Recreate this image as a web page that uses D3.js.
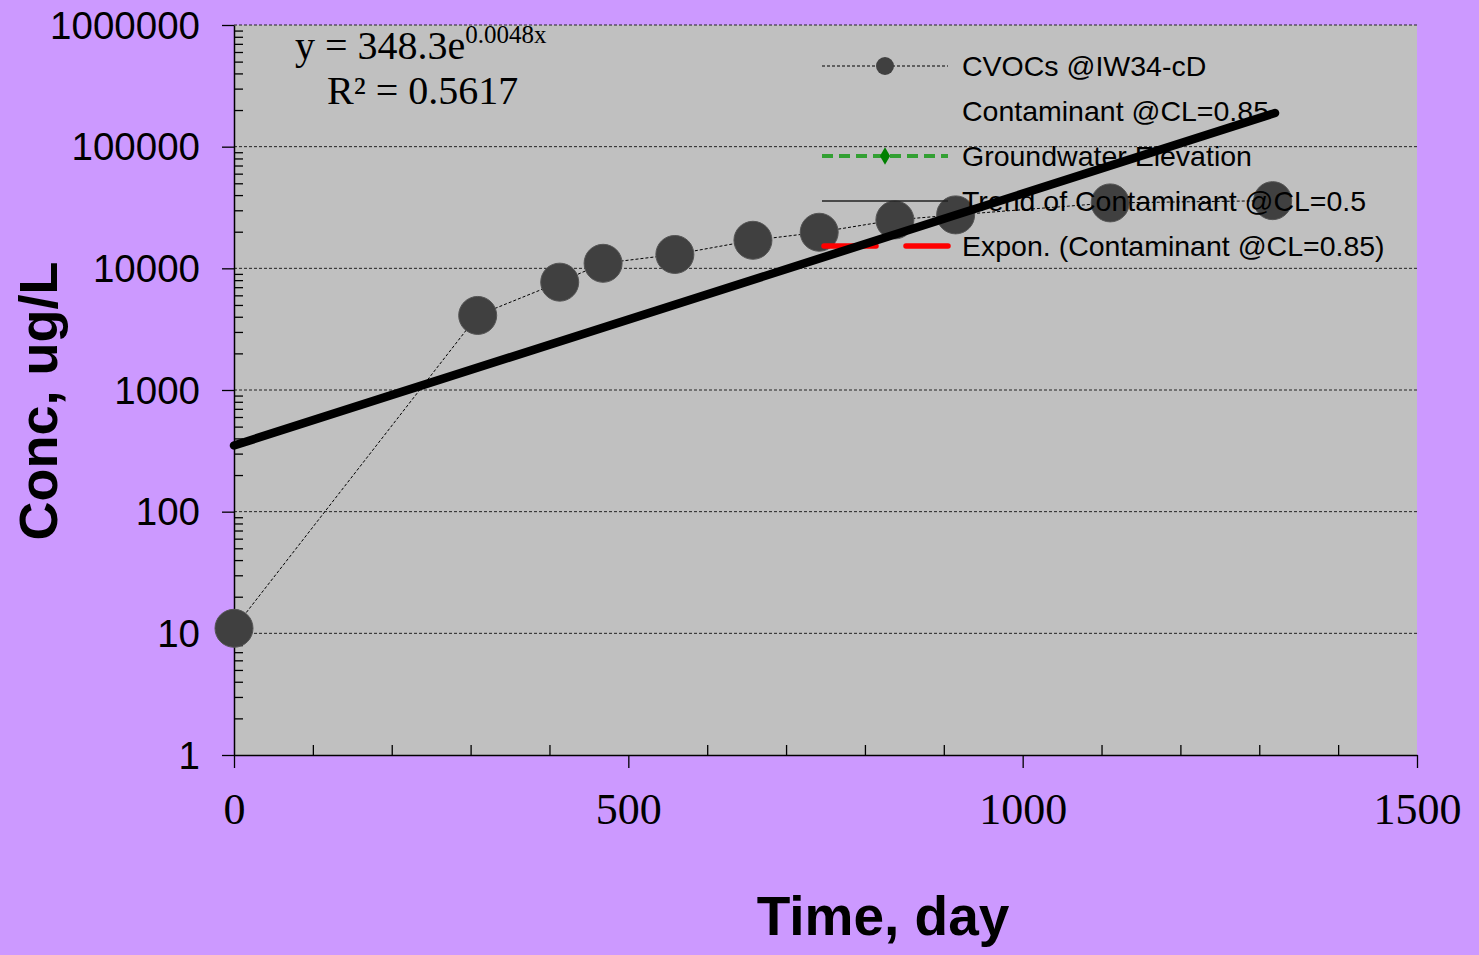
<!DOCTYPE html>
<html>
<head>
<meta charset="utf-8">
<script src="https://cdn.jsdelivr.net/npm/d3@7"></script>
<style>
  body { margin: 0; background: #cc99ff; }
  svg { display: block; }
</style>
</head>
<body>
<div id="chart"></div>
<script>
// data
var days = [0, 309, 413, 468, 559, 658, 742, 838, 915, 1111, 1317];
var conc = [11, 4100, 7700, 11000, 13000, 17000, 19800, 25000, 27500, 34500, 36000];
// exponential trend, end points
var trendDays = [0, 1320];
var trendConc = [350, 189000];
var xTicks = [0, 500, 1000, 1500];
var yTicks = [1, 10, 100, 1000, 10000, 100000, 1000000];
var legendNames = ["CVOCs @IW34-cD", "Contaminant @CL=0.85", "Groundwater Elevation",
  "Trend of Contaminant @CL=0.5", "Expon. (Contaminant @CL=0.85)"];

var W = 1479, H = 955;
var plotL = 234, plotR = 1417, plotT = 25, plotB = 755;

var svg = d3.select("#chart").append("svg")
  .attr("width", W).attr("height", H);

var x = d3.scaleLinear().domain([0, 1500]).range([plotL, plotR]);
var y = d3.scaleLog().domain([1, 1000000]).range([plotB, plotT]);

// plot area
svg.append("rect")
  .attr("x", plotL).attr("y", plotT)
  .attr("width", plotR - plotL).attr("height", plotB - plotT)
  .attr("fill", "#c0c0c0");

// grid lines
svg.append("g").selectAll("line")
  .data(yTicks.slice(1))
  .enter().append("line")
  .attr("x1", plotL).attr("x2", plotR)
  .attr("y1", d => y(d)).attr("y2", d => y(d))
  .attr("stroke", "#222").attr("stroke-width", 1)
  .attr("stroke-dasharray", "3,2");

// minor ticks
var yMinor = [];
for (var p = 0; p < 6; p++) for (var k = 2; k <= 9; k++) yMinor.push(k * Math.pow(10, p));
var xMinor = d3.range(100, 1500, 100).filter(d => d % 500 !== 0);

svg.append("g")
  .attr("transform", "translate(" + plotL + ",0)")
  .call(d3.axisRight(y).tickValues(yMinor).tickSize(9).tickFormat(""))
  .call(g => g.select(".domain").remove())
  .selectAll("line").attr("stroke", "#000").attr("stroke-width", 1.3);

svg.append("g")
  .attr("transform", "translate(0," + plotB + ")")
  .call(d3.axisTop(x).tickValues(xMinor).tickSize(10).tickFormat(""))
  .call(g => g.select(".domain").remove())
  .selectAll("line").attr("stroke", "#000").attr("stroke-width", 1.3);

// y axis
var yAxis = svg.append("g")
  .attr("transform", "translate(" + plotL + ",0)")
  .call(d3.axisLeft(y).tickValues(yTicks).tickSize(12).tickSizeOuter(0).tickPadding(22)
    .tickFormat(d3.format("d")));
yAxis.select(".domain").attr("stroke", "#000").attr("stroke-width", 1.5);
yAxis.selectAll("line").attr("stroke", "#000").attr("stroke-width", 1.3);
yAxis.selectAll("text")
  .attr("font-family", "Liberation Sans, Arial, sans-serif")
  .attr("font-size", 38.5).attr("fill", "#000").attr("dy", "0.34em");

// x axis
var xAxis = svg.append("g")
  .attr("transform", "translate(0," + plotB + ")")
  .call(d3.axisBottom(x).tickValues(xTicks).tickSize(13).tickSizeOuter(0)
    .tickFormat(d3.format("d")));
xAxis.select(".domain").attr("stroke", "#000").attr("stroke-width", 1.5);
xAxis.selectAll("line").attr("stroke", "#000").attr("stroke-width", 1.3);
xAxis.selectAll("text")
  .attr("font-family", "Liberation Serif, Times New Roman, serif")
  .attr("font-size", 44).attr("fill", "#000")
  .attr("y", 69).attr("dy", 0);

// data series
var pts = days.map((d, i) => ({ day: d, c: conc[i] }));
svg.append("path")
  .datum(pts)
  .attr("fill", "none").attr("stroke", "#000").attr("stroke-width", 1)
  .attr("stroke-dasharray", "3,2")
  .attr("d", d3.line().x(d => x(d.day)).y(d => y(d.c)));

svg.append("g").selectAll("circle")
  .data(pts)
  .enter().append("circle")
  .attr("cx", d => x(d.day)).attr("cy", d => y(d.c))
  .attr("r", 19)
  .attr("fill", "#404040").attr("stroke", "#555").attr("stroke-width", 1);

// legend
var lg = svg.append("g");
var lx0 = 822, lx1 = 948, lmid = 885, ltext = 962, ly0 = 66, lstep = 45;
legendNames.forEach(function (name, i) {
  var ly = ly0 + i * lstep;
  if (i === 0) {
    lg.append("line").attr("x1", lx0).attr("x2", lx1).attr("y1", ly).attr("y2", ly)
      .attr("stroke", "#000").attr("stroke-width", 1).attr("stroke-dasharray", "3,2");
    lg.append("circle").attr("cx", lmid).attr("cy", ly).attr("r", 9).attr("fill", "#404040");
  } else if (i === 2) {
    lg.append("line").attr("x1", lx0).attr("x2", lx1).attr("y1", ly).attr("y2", ly)
      .attr("stroke", "#33a033").attr("stroke-width", 4).attr("stroke-dasharray", "11,6");
    lg.append("path")
      .attr("d", d3.symbol().type(d3.symbolDiamond).size(90)())
      .attr("transform", "translate(" + lmid + "," + ly + ")")
      .attr("fill", "#008000");
  } else if (i === 3) {
    lg.append("line").attr("x1", lx0).attr("x2", lx1).attr("y1", ly).attr("y2", ly)
      .attr("stroke", "#222").attr("stroke-width", 1.5);
  } else if (i === 4) {
    lg.append("line").attr("x1", lx0 + 2).attr("x2", lx1).attr("y1", ly).attr("y2", ly)
      .attr("stroke", "#ff0000").attr("stroke-width", 5.5).attr("stroke-linecap", "round")
      .attr("stroke-dasharray", "52,30");
  }
  lg.append("text")
    .attr("x", ltext).attr("y", ly).attr("dy", "0.36em")
    .attr("font-family", "Liberation Sans, Arial, sans-serif")
    .attr("font-size", 28.5).attr("fill", "#000")
    .text(name);
});

// trend line
svg.append("path")
  .datum(trendDays.map((d, i) => ({ day: d, c: trendConc[i] })))
  .attr("fill", "none").attr("stroke", "#000").attr("stroke-width", 8.5)
  .attr("stroke-linecap", "round")
  .attr("d", d3.line().x(d => x(d.day)).y(d => y(d.c)));

// equation
var eq = svg.append("text")
  .attr("x", 295).attr("y", 59)
  .attr("font-family", "Liberation Serif, Times New Roman, serif")
  .attr("font-size", 40).attr("fill", "#000");
eq.append("tspan").text("y = 348.3e");
eq.append("tspan").attr("font-size", 25).attr("dy", -16).text("0.0048x");
svg.append("text")
  .attr("x", 327).attr("y", 104)
  .attr("font-family", "Liberation Serif, Times New Roman, serif")
  .attr("font-size", 40).attr("fill", "#000")
  .text("R² = 0.5617");

// axis titles
svg.append("text")
  .attr("x", 883).attr("y", 935)
  .attr("text-anchor", "middle")
  .attr("font-family", "Liberation Sans, Arial, sans-serif")
  .attr("font-weight", "bold").attr("font-size", 55).attr("fill", "#000")
  .text("Time, day");
svg.append("text")
  .attr("transform", "translate(57,401) rotate(-90)")
  .attr("text-anchor", "middle")
  .attr("font-family", "Liberation Sans, Arial, sans-serif")
  .attr("font-weight", "bold").attr("font-size", 54).attr("fill", "#000")
  .text("Conc, ug/L");
</script>
</body>
</html>
